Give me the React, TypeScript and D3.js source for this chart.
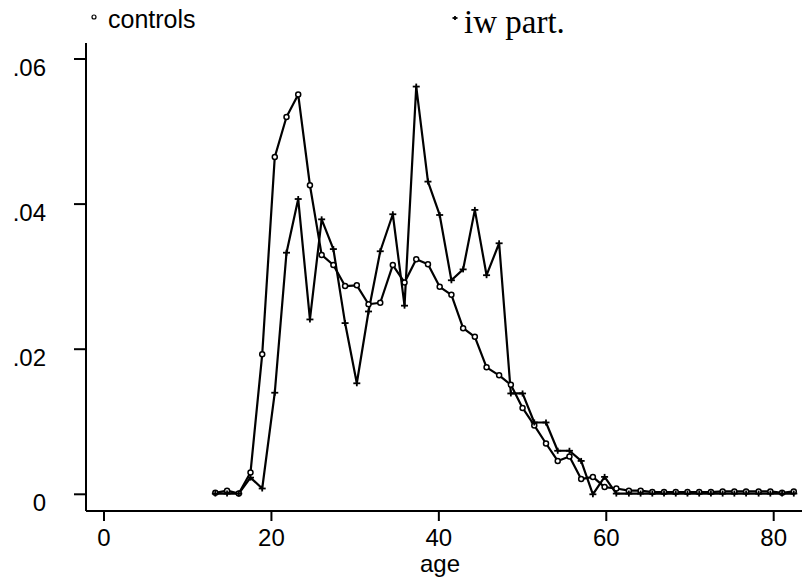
import * as d3 from "d3";

const width = 802;
const height = 582;

// age bins (x)
const ages = [
  13.3, 14.7, 16.1, 17.5, 18.9, 20.4, 21.8, 23.2, 24.6, 26.0, 27.4, 28.8, 30.2,
  31.6, 33.0, 34.5, 35.9, 37.3, 38.7, 40.1, 41.5, 42.9, 44.3, 45.7, 47.2, 48.6,
  50.0, 51.4, 52.8, 54.2, 55.6, 57.0, 58.4, 59.8, 61.2, 62.7, 64.1, 65.5, 66.9,
  68.3, 69.7, 71.1, 72.5, 73.9, 75.3, 76.7, 78.2, 79.6, 81.0, 82.4,
];

const controls = [
  0.0002, 0.0005, 0.0001, 0.003, 0.0193, 0.0465, 0.052, 0.0551, 0.0426, 0.033,
  0.0316, 0.0287, 0.0288, 0.0262, 0.0264, 0.0316, 0.0292, 0.0324, 0.0317,
  0.0286, 0.0275, 0.0229, 0.0217, 0.0175, 0.0164, 0.0151, 0.0119, 0.0095,
  0.007, 0.0046, 0.0052, 0.0021, 0.0024, 0.001, 0.0008, 0.0005, 0.0005, 0.0003,
  0.0003, 0.0003, 0.0003, 0.0003, 0.0003, 0.0004, 0.0004, 0.0004, 0.0004,
  0.0004, 0.0002, 0.0004,
];

const iwPart = [
  0.0001, 0.0001, 0.0001, 0.0023, 0.0008, 0.014, 0.0333, 0.0407, 0.0241,
  0.0379, 0.0338, 0.0236, 0.0153, 0.0252, 0.0335, 0.0386, 0.026, 0.0562,
  0.0431, 0.0385, 0.0295, 0.031, 0.0392, 0.0302, 0.0346, 0.0139, 0.0139,
  0.0099, 0.0099, 0.006, 0.006, 0.0046, 0.0, 0.0024, 0.0001, 0.0001, 0.0001,
  0.0001, 0.0001, 0.0001, 0.0001, 0.0001, 0.0001, 0.0001, 0.0001, 0.0001,
  0.0001, 0.0001, 0.0001, 0.0001,
];

const xTicks = [0, 20, 40, 60, 80];
const yTicks = [0, 0.02, 0.04, 0.06];
const yTickLabels = ["0", ".02", ".04", ".06"];

const sans = "Arial, 'Liberation Sans', Helvetica, sans-serif";
const serif = "'Times New Roman', 'Liberation Serif', serif";

const App = () => {
  const x = d3.scaleLinear().domain([0, 80]).range([104, 773.7]);
  const y = d3.scaleLinear().domain([0, 0.06]).range([494.3, 59]);

  const axisX = 86;
  const axisY = 511;

  const line = d3
    .line<number>()
    .x((_, i) => x(ages[i]))
    .y((d) => y(d));

  const plus = (cx: number, cy: number, hw: number, hh: number, key: string) => (
    <g key={key} stroke="#000" strokeWidth={1.8}>
      <line x1={cx - hw} x2={cx + hw} y1={cy} y2={cy} />
      <line x1={cx} x2={cx} y1={cy - hh} y2={cy + hh} />
    </g>
  );

  return (
    <svg
      width={width}
      height={height}
      style={{ position: "absolute", left: 0, top: 0, background: "#fff" }}
    >
      {/* axes */}
      <line x1={axisX} x2={axisX} y1={43} y2={axisY} stroke="#000" strokeWidth={2} />
      <line x1={axisX} x2={width} y1={axisY} y2={axisY} stroke="#000" strokeWidth={2} />

      {yTicks.map((t, i) => (
        <g key={"y" + t}>
          <line x1={axisX - 12} x2={axisX} y1={y(t)} y2={y(t)} stroke="#000" strokeWidth={2} />
          <text
            x={46}
            y={y(t) + 17}
            textAnchor="end"
            fontFamily={sans}
            fontSize={24}
          >
            {yTickLabels[i]}
          </text>
        </g>
      ))}

      {xTicks.map((t) => (
        <g key={"x" + t}>
          <line x1={x(t)} x2={x(t)} y1={axisY} y2={axisY + 10} stroke="#000" strokeWidth={2} />
          <text x={x(t)} y={545.5} textAnchor="middle" fontFamily={sans} fontSize={24}>
            {t}
          </text>
        </g>
      ))}
      <text x={440} y={572} textAnchor="middle" fontFamily={sans} fontSize={24}>
        age
      </text>

      {/* series */}
      <path d={line(controls) ?? ""} fill="none" stroke="#000" strokeWidth={2.2} strokeLinejoin="round" />
      <path d={line(iwPart) ?? ""} fill="none" stroke="#000" strokeWidth={2.2} strokeLinejoin="round" />

      {controls.map((v, i) => (
        <circle
          key={"c" + i}
          cx={x(ages[i])}
          cy={y(v)}
          r={2.5}
          fill="#fff"
          stroke="#000"
          strokeWidth={1.5}
        />
      ))}
      {iwPart.map((v, i) => plus(x(ages[i]), y(v), 3.5, 3, "p" + i))}

      {/* legend */}
      <circle cx={94} cy={17} r={2} fill="#fff" stroke="#000" strokeWidth={1.2} />
      <text x={108} y={28} fontFamily={sans} fontSize={25}>
        controls
      </text>
      {plus(455, 18, 2.5, 2, "legendPlus")}
      <text x={464} y={33} fontFamily={serif} fontSize={33}>
        iw part.
      </text>
    </svg>
  );
};

export default App;
